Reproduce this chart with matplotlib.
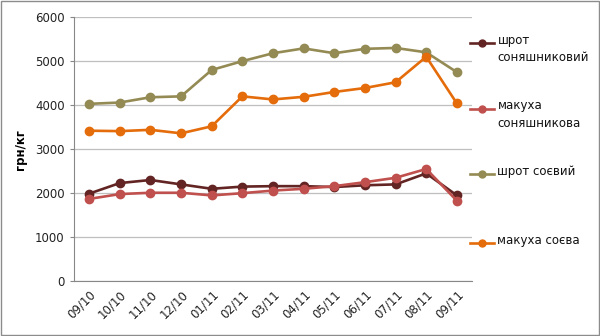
import matplotlib.pyplot as plt
from matplotlib.lines import Line2D
from matplotlib.patches import Rectangle

# monthly prices, UAH per kg
months = ['09/10', '10/10', '11/10', '12/10', '01/11', '02/11', '03/11',
          '04/11', '05/11', '06/11', '07/11', '08/11', '09/11']
sun_meal = [1990, 2230, 2300, 2200, 2100, 2150, 2160, 2160, 2140, 2180, 2200, 2450, 1950]
sun_cake = [1870, 1980, 2010, 2010, 1950, 2000, 2060, 2100, 2160, 2250, 2350, 2550, 1830]
soy_meal = [4030, 4060, 4180, 4200, 4800, 5000, 5180, 5290, 5180, 5280, 5300, 5200, 4750]
soy_cake = [3420, 3410, 3440, 3360, 3520, 4200, 4130, 4190, 4300, 4390, 4520, 5100, 4040]

labels = ['шрот\nсоняшниковий', 'макуха\nсоняшникова', 'шрот соєвий', 'макуха соєва']
colors = ['#632523', '#C0504D', '#948A54', '#E46C0A']

fig = plt.figure(figsize=(6, 3.36), dpi=100)
ax = fig.add_axes([0.123, 0.163, 0.664, 0.786])

x = list(range(len(months)))
for ys, c in zip([sun_meal, sun_cake, soy_meal, soy_cake], colors):
    ax.plot(x, ys, color=c, lw=1.9, marker='o', ms=6, zorder=3)

ax.set_xlim(-0.5, len(months) - 0.5)
ax.set_ylim(0, 6000)
ax.set_yticks(range(0, 6001, 1000))
ax.set_xticks(x)
ax.set_xticklabels(months, rotation=45, ha='right', rotation_mode='anchor')
ax.tick_params(axis='both', labelsize=8.5, colors='#222222', length=3, color='#888888')
ax.tick_params(axis='x', length=0, pad=5)
ax.grid(axis='y', color='#BFBFBF', lw=0.9)
ax.set_axisbelow(True)
for s in ['top', 'right']:
    ax.spines[s].set_visible(False)
for s in ['left', 'bottom']:
    ax.spines[s].set_color('#888888')
ax.set_ylabel('грн/кг', fontsize=8.5, fontweight='bold', labelpad=6)

# legend on the right, marker lined up with the first text line
legend_y = [0.872, 0.677, 0.481, 0.278]
for lab, c, yy in zip(labels, colors, legend_y):
    fig.add_artist(Line2D([0.783, 0.823], [yy, yy], color=c, lw=1.9,
                          transform=fig.transFigure))
    fig.add_artist(Line2D([0.803], [yy], color=c, marker='o', ms=5,
                          transform=fig.transFigure))
    fig.text(0.829, yy + 0.027, lab, fontsize=8.5, va='top', ha='left',
             linespacing=1.45, color='#111111')

fig.add_artist(Rectangle((0.002, 0.003), 0.996, 0.994, fill=False,
                         ec='#8C8C8C', lw=1, transform=fig.transFigure))

fig.savefig('out.png', dpi=100)
